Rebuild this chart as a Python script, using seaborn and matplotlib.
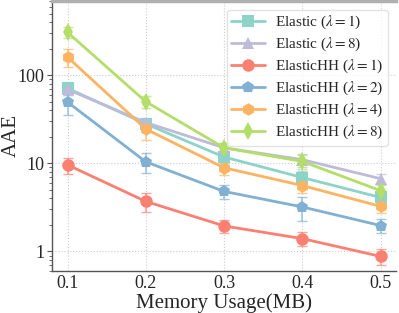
import numpy as np
import pandas as pd
import seaborn as sns
import matplotlib
matplotlib.use("Agg")
import matplotlib.pyplot as plt
from matplotlib.ticker import FuncFormatter, LogLocator

memory = [0.1, 0.2, 0.3, 0.4, 0.5]
labels = [r"Elastic ($\lambda=1$)", r"Elastic ($\lambda=8$)",
          r"ElasticHH ($\lambda=1$)", r"ElasticHH ($\lambda=2$)",
          r"ElasticHH ($\lambda=4$)", r"ElasticHH ($\lambda=8$)"]
elastic_1 = [71, 28, 11.8, 6.9, 4.1]
elastic_8 = [69, 29, 15, 11, 6.7]
hh_1 = [9.6, 3.7, 1.95, 1.4, 0.88]
hh_2 = [49.5, 10.4, 4.8, 3.2, 1.97]
hh_4 = [160, 24.5, 8.9, 5.6, 3.25]
hh_8 = [306, 50, 15, 10.5, 4.9]
elastic_1_err = [12, 4, 1.8, 1.2, 0.6]
elastic_8_err = [10, 4, 2, 1.8, 0.9]
hh_1_err = [2.0, 0.9, 0.35, 0.25, 0.18]
hh_2_err = [14, 2.7, 0.9, 1.0, 0.35]
hh_4_err = [37, 6, 1.5, 1.0, 0.5]
hh_8_err = [45, 8, 2, 1.8, 0.8]

series = [elastic_1, elastic_8, hh_1, hh_2, hh_4, hh_8]
errors = [elastic_1_err, elastic_8_err, hh_1_err, hh_2_err, hh_4_err, hh_8_err]
markers = ["s", "^", "o", "p", "h", "d"]
colors = ["#8dd3c7", "#bebada", "#fb8072", "#80b1d3", "#fdb462", "#b3de69"]

df = pd.DataFrame({
    "memory": np.tile(memory, len(series)),
    "aae": np.concatenate(series),
    "err": np.concatenate(errors),
    "method": np.repeat(labels, len(memory)),
})

sns.set_style("whitegrid", {"grid.linestyle": ":", "grid.color": "#cccccc"})
plt.rcParams["font.family"] = ["Liberation Serif", "DejaVu Serif"]
plt.rcParams["mathtext.fontset"] = "stix"

fig, ax = plt.subplots(figsize=(3.99, 3.13), dpi=100)
fig.subplots_adjust(left=0.13, right=0.993, bottom=0.134, top=0.998)

for lab, col in zip(labels, colors):
    sub = df[df["method"] == lab]
    ax.errorbar(sub["memory"], sub["aae"], yerr=sub["err"], fmt="none",
                ecolor=col, elinewidth=1.2, capsize=3.5, alpha=0.7, zorder=2)

sns.lineplot(data=df, x="memory", y="aae", hue="method", style="method",
             palette=colors, markers=markers, dashes=False, linewidth=2,
             markersize=9, markeredgewidth=0, ax=ax, zorder=3)

ax.set_yscale("log")
ax.set_ylim(0.6, 700)
ax.set_xlim(0.08, 0.52)
ax.set_xticks(memory)
ax.set_xticklabels([str(m) for m in memory])
ax.yaxis.set_major_locator(LogLocator(base=10))
ax.yaxis.set_major_formatter(FuncFormatter(lambda v, p: f"{v:g}"))
ax.yaxis.set_minor_locator(LogLocator(base=10, subs=np.arange(2, 10)))
ax.tick_params(axis="x", which="both", bottom=False, length=0, labelsize=13, pad=3)
ax.tick_params(axis="y", which="both", labelsize=13, pad=2)
ax.tick_params(axis="y", which="minor", left=True, length=2.5, width=0.6, color="#555555")
ax.tick_params(axis="y", which="major", left=True, length=3.5, width=0.8, color="#555555")
ax.set_xlabel("Memory Usage(MB)", fontsize=15, labelpad=1)
ax.set_ylabel("AAE", fontsize=15)
ax.yaxis.set_label_coords(-0.09, 0.5)

ax.grid(True, which="major", linestyle=":", color="#cccccc", linewidth=0.8)
for side in ["left", "bottom"]:
    ax.spines[side].set_color("#555555")
    ax.spines[side].set_linewidth(1.0)
ax.spines["top"].set_color("#b0b0b0")
ax.spines["top"].set_linewidth(2.5)
ax.spines["right"].set_visible(False)

leg = ax.legend(loc="upper right", fontsize=11, frameon=True, fancybox=True,
                handlelength=2.2, handletextpad=0.65, borderpad=0.3,
                labelspacing=0.3, borderaxespad=0,
                bbox_to_anchor=(0.975, 0.967))
leg.get_frame().set_edgecolor("#dddddd")
leg.get_frame().set_alpha(0.8)

fig.savefig("out.png", dpi=100)
